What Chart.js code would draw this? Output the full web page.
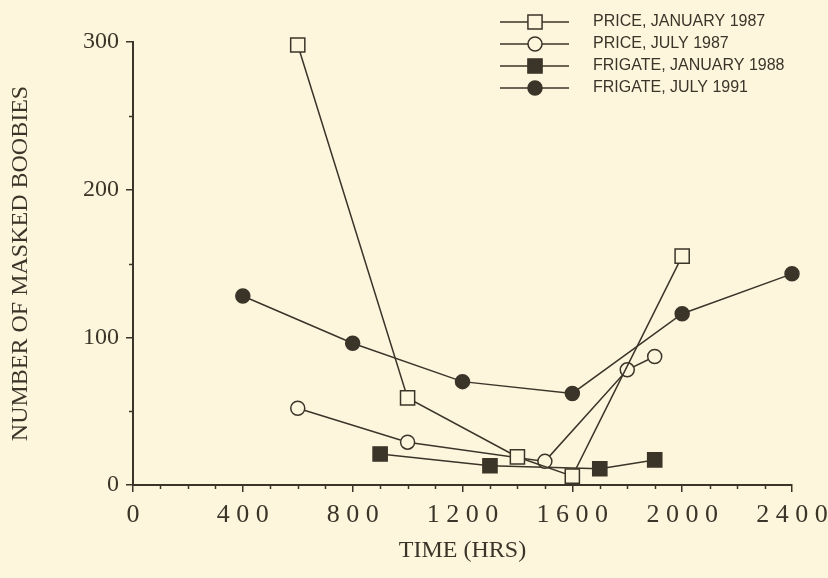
<!DOCTYPE html>
<html>
<head>
<meta charset="utf-8">
<script src="https://cdn.jsdelivr.net/npm/chart.js@4/dist/chart.umd.min.js"></script>
<style>
  html, body { margin: 0; padding: 0; background: #fdf6dd; }
  #wrap { width: 828px; height: 578px; }
</style>
</head>
<body>
<div id="wrap"><canvas id="c" width="828" height="578"></canvas></div>
<script>
// Masked booby counts by time of day, two islands
const priceJan1987Hours = [600, 1000, 1400, 1600, 2000];
const priceJan1987Counts = [298, 59, 19, 6, 155];

const priceJul1987Hours = [600, 1000, 1500, 1800, 1900];
const priceJul1987Counts = [52, 29, 16, 78, 87];

const frigateJan1988Hours = [900, 1300, 1700, 1900];
const frigateJan1988Counts = [21, 13, 11, 17];

const frigateJul1991Hours = [400, 800, 1200, 1600, 2000, 2400];
const frigateJul1991Counts = [128, 96, 70, 62, 116, 143];

const seriesLabels = ['PRICE, JANUARY 1987', 'PRICE, JULY 1987', 'FRIGATE, JANUARY 1988', 'FRIGATE, JULY 1991'];
const xTickValues = [0, 400, 800, 1200, 1600, 2000, 2400];
const yTickValues = [0, 100, 200, 300];

const INK = '#3b3429';
const PAPER = '#fdf6dd';
const SERIF = '"Liberation Serif", "DejaVu Serif", serif';
const SANS = '"Liberation Sans", Arial, sans-serif';

function points(xs, ys) {
  return xs.map((x, i) => ({ x: x, y: ys[i] }));
}

function series(label, xs, ys, style, filled) {
  return {
    label: label,
    data: points(xs, ys),
    borderColor: INK,
    borderWidth: 1.5,
    pointStyle: style,
    pointRadius: style === 'rect' ? 10 : 7,
    pointHoverRadius: style === 'rect' ? 10 : 7,
    pointBorderWidth: 1.5,
    pointBorderColor: INK,
    pointBackgroundColor: filled ? INK : PAPER,
    fill: false,
    tension: 0,
    clip: false
  };
}

// Paper background
const paperPlugin = {
  id: 'paper',
  beforeDraw(chart) {
    const ctx = chart.ctx;
    ctx.save();
    ctx.fillStyle = PAPER;
    ctx.fillRect(0, 0, chart.width, chart.height);
    ctx.restore();
  }
};

// Short minor ticks between the labelled ones
const minorTicksPlugin = {
  id: 'minorTicks',
  afterDraw(chart) {
    const ctx = chart.ctx;
    const xs = chart.scales.x, ys = chart.scales.y;
    ctx.save();
    ctx.strokeStyle = INK;
    ctx.lineWidth = 1.5;
    ctx.beginPath();
    for (let v = 100; v < 2400; v += 100) {
      if (v % 400 === 0) continue;
      const px = Math.round(xs.getPixelForValue(v)) + 0.5;
      ctx.moveTo(px, xs.top);
      ctx.lineTo(px, xs.top + 4);
    }
    for (let v = 50; v < 300; v += 100) {
      const py = Math.round(ys.getPixelForValue(v)) + 0.5;
      ctx.moveTo(ys.right - 4, py);
      ctx.lineTo(ys.right, py);
    }
    ctx.stroke();
    ctx.restore();
  }
};

// Key in the upper right: line through marker, then label
const keyPlugin = {
  id: 'key',
  afterDraw(chart) {
    const ctx = chart.ctx;
    const rows = [22, 44, 66, 88];
    ctx.save();
    chart.data.datasets.forEach((ds, i) => {
      const y = rows[i];
      ctx.strokeStyle = INK;
      ctx.lineWidth = 1.5;
      ctx.beginPath();
      ctx.moveTo(500, y);
      ctx.lineTo(569, y);
      ctx.stroke();
      ctx.fillStyle = ds.pointBackgroundColor;
      ctx.strokeStyle = INK;
      ctx.lineWidth = 1.5;
      Chart.helpers.drawPoint(ctx, {
        pointStyle: ds.pointStyle,
        radius: ds.pointRadius,
        borderWidth: 1.5,
        rotation: 0
      }, 535, y);
      ctx.fillStyle = INK;
      ctx.font = '16px ' + SANS;
      ctx.textAlign = 'left';
      ctx.textBaseline = 'middle';
      ctx.fillText(ds.label, 593, y);
    });
    ctx.restore();
  }
};

new Chart(document.getElementById('c'), {
  type: 'line',
  data: {
    datasets: [
      series(seriesLabels[0], priceJan1987Hours, priceJan1987Counts, 'rect', false),
      series(seriesLabels[1], priceJul1987Hours, priceJul1987Counts, 'circle', false),
      series(seriesLabels[2], frigateJan1988Hours, frigateJan1988Counts, 'rect', true),
      series(seriesLabels[3], frigateJul1991Hours, frigateJul1991Counts, 'circle', true)
    ]
  },
  options: {
    responsive: false,
    animation: false,
    events: [],
    layout: { padding: { left: 0, right: 36, top: 42, bottom: 0 } },
    plugins: {
      legend: { display: false },
      tooltip: { enabled: false }
    },
    scales: {
      x: {
        type: 'linear',
        min: 0,
        max: 2400,
        afterFit(scale) {
          scale.height = 93;
          scale.paddingLeft = 0;
          scale.paddingRight = 0;
        },
        afterBuildTicks(scale) { scale.ticks = xTickValues.map(v => ({ value: v })); },
        ticks: {
          color: INK,
          font: { family: SERIF, size: 26 },
          padding: 8,
          maxRotation: 0,
          autoSkip: false,
          callback: v => String(v).split('').join(' ')
        },
        grid: { display: true, drawOnChartArea: false, drawTicks: true, tickLength: 7, color: INK, lineWidth: 1.5 },
        border: { display: true, color: INK, width: 2 },
        title: {
          display: true,
          text: 'TIME (HRS)',
          color: INK,
          font: { family: SERIF, size: 24, weight: 'normal' },
          padding: { top: 0, bottom: 13 }
        }
      },
      y: {
        type: 'linear',
        min: 0,
        max: 300,
        afterFit(scale) {
          scale.width = 133;
          scale.paddingTop = 0;
          scale.paddingBottom = 0;
        },
        afterBuildTicks(scale) { scale.ticks = yTickValues.map(v => ({ value: v })); },
        ticks: {
          color: INK,
          font: { family: SERIF, size: 24 },
          padding: 7,
          autoSkip: false
        },
        grid: { display: true, drawOnChartArea: false, drawTicks: true, tickLength: 7, color: INK, lineWidth: 1.5 },
        border: { display: true, color: INK, width: 2 },
        title: {
          display: true,
          text: 'NUMBER OF MASKED BOOBIES',
          color: INK,
          font: { family: SERIF, size: 24, weight: 'normal' },
          padding: { top: 6, bottom: 0 }
        }
      }
    }
  },
  plugins: [paperPlugin, minorTicksPlugin, keyPlugin]
});
</script>
</body>
</html>
